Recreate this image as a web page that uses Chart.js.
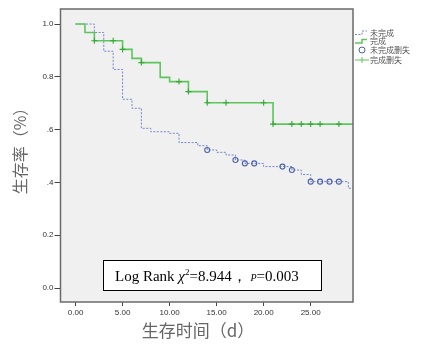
<!DOCTYPE html>
<html><head><meta charset="utf-8">
<script src="https://cdn.jsdelivr.net/npm/chart.js@4.4.0/dist/chart.umd.min.js"></script>
<style>html,body{margin:0;padding:0;background:#fff;}#wrap{width:421px;height:350px;position:relative;}</style>
</head><body><div id="wrap"><canvas id="c" width="421" height="350"></canvas></div>
<script>
// ---- data ----
const xTicks = [0, 5, 10, 15, 20, 25];
const yTicks = [0, 0.2, 0.4, 0.6, 0.8, 1.0];
const yTickLabels = ['0.0', '0.2', '.4', '.6', '0.8', '1.0'];
const seriesNames = ['未完成', '完成', '未完成删失', '完成删失'];
const xTitle = '生存时间（d）';
const yTitle = '生存率（%）';

// 未完成 (not completed) KM curve: event times and survival after each step
const notDoneTimes = [0, 2, 3, 4, 5, 6, 7, 8, 10, 11, 13, 14, 15, 16, 17, 18, 20, 23, 24, 25, 29, 29.5];
const notDoneSurv  = [1.0, 0.968, 0.897, 0.828, 0.715, 0.681, 0.605, 0.592, 0.586, 0.551, 0.539, 0.523, 0.514, 0.504, 0.485, 0.472, 0.460, 0.447, 0.430, 0.403, 0.378, 0.378];
const notDoneCensTimes = [14, 17, 18, 19, 22, 23, 25, 26, 27, 28];
const notDoneCensSurv  = [0.523, 0.485, 0.472, 0.472, 0.460, 0.447, 0.403, 0.403, 0.403, 0.403];

// 完成 (completed) KM curve
const doneTimes = [0, 1, 2, 5, 6, 7, 9, 10, 12, 14, 21, 29.5];
const doneSurv  = [1.0, 0.968, 0.937, 0.904, 0.870, 0.854, 0.798, 0.782, 0.744, 0.702, 0.621, 0.621];
const doneCensTimes = [2, 4, 5, 7, 11, 12, 14, 16, 20, 21, 23, 24, 25, 26, 28];
const doneCensSurv  = [0.937, 0.937, 0.904, 0.854, 0.782, 0.744, 0.702, 0.702, 0.702, 0.621, 0.621, 0.621, 0.621, 0.621, 0.621];

const statLabel = 'Log Rank';
const chiSquare = '8.944';
const pValue = '0.003';

// ---- styles ----
const BLUE_LINE = '#7486c6';
const BLUE_MARK = '#4a60ae';
const GREEN = '#5cc65c';
const GREEN_MARK = '#34a834';

const pts = (xs, ys) => xs.map((x, i) => ({x: x, y: ys[i]}));

const decor = {
  id: 'decor',
  beforeDatasetsDraw(chart) {
    const {ctx, chartArea: a} = chart;
    ctx.save();
    ctx.fillStyle = '#f0f0f0';
    ctx.fillRect(a.left, a.top, a.right - a.left, a.bottom - a.top);
    ctx.restore();
  },
  afterDraw(chart) {
    const {ctx, chartArea: a} = chart;
    ctx.save();
    // frame
    ctx.strokeStyle = '#6a6a6a';
    ctx.lineWidth = 1.5;
    ctx.strokeRect(a.left, a.top, a.right - a.left, a.bottom - a.top);

    // legend
    ctx.font = '8px "Noto Sans CJK SC"';
    ctx.fillStyle = '#555';
    ctx.textBaseline = 'middle';
    ctx.textAlign = 'left';
    const rows = [32.5, 41, 50, 60];
    const tx = 370;
    ctx.strokeStyle = BLUE_LINE; ctx.lineWidth = 1; ctx.setLineDash([2, 1.5]);
    ctx.beginPath(); ctx.moveTo(355, rows[0] + 2); ctx.lineTo(362, rows[0] + 2); ctx.lineTo(362, rows[0] - 1.5); ctx.lineTo(367, rows[0] - 1.5); ctx.stroke();
    ctx.setLineDash([]);
    ctx.strokeStyle = GREEN; ctx.lineWidth = 1.5;
    ctx.beginPath(); ctx.moveTo(355, rows[1] + 2); ctx.lineTo(362, rows[1] + 2); ctx.lineTo(362, rows[1] - 1.5); ctx.lineTo(367, rows[1] - 1.5); ctx.stroke();
    ctx.strokeStyle = BLUE_MARK; ctx.lineWidth = 1;
    ctx.beginPath(); ctx.arc(362, rows[2], 3, 0, Math.PI * 2); ctx.stroke();
    ctx.strokeStyle = GREEN; ctx.lineWidth = 1;
    ctx.beginPath(); ctx.moveTo(355, rows[3]); ctx.lineTo(369, rows[3]); ctx.moveTo(362, rows[3] - 3); ctx.lineTo(362, rows[3] + 3); ctx.stroke();
    seriesNames.forEach((n, i) => ctx.fillText(n, tx, rows[i]));

    // axis titles
    ctx.fillStyle = '#666';
    ctx.font = '17px "Noto Sans CJK SC"';
    ctx.textAlign = 'center';
    ctx.textBaseline = 'middle';
    ctx.fillText(xTitle, 198, 331);
    ctx.save();
    ctx.translate(20, 147);
    ctx.rotate(-Math.PI / 2);
    ctx.font = '16px "Noto Sans CJK SC"';
    ctx.fillText(yTitle, 0, 0);
    ctx.restore();

    // statistic box
    const bx = 103.5, by = 260.5, bw = 218, bh = 30;
    ctx.fillStyle = '#fff';
    ctx.fillRect(bx, by, bw, bh);
    ctx.strokeStyle = '#000'; ctx.lineWidth = 1;
    ctx.strokeRect(bx, by, bw, bh);
    ctx.fillStyle = '#000';
    ctx.textAlign = 'left';
    ctx.textBaseline = 'alphabetic';
    let x = 115; const base = 281;
    const seg = (t, f, dy) => { ctx.font = f; ctx.fillText(t, x, base + (dy || 0)); x += ctx.measureText(t).width; };
    seg(statLabel + ' ', '15px "Liberation Serif"');
    seg('χ', 'italic 15px "Liberation Serif"');
    seg('2', '9px "Liberation Serif"', -6);
    seg('=' + chiSquare + '，', '15px "Liberation Serif"');
    seg(' ', '15px "Liberation Serif"');
    seg('P', 'italic 10px "Liberation Serif"');
    seg('=' + pValue, '15px "Liberation Serif"');
    ctx.restore();
  }
};

new Chart(document.getElementById('c'), {
  type: 'line',
  data: {
    datasets: [
      { label: seriesNames[0], data: pts(notDoneTimes, notDoneSurv), stepped: true, borderColor: BLUE_LINE, borderWidth: 1, borderDash: [2, 1.5], pointRadius: 0, fill: false, order: 2 },
      { label: seriesNames[1], data: pts(doneTimes, doneSurv), stepped: true, borderColor: GREEN, borderWidth: 1.6, pointRadius: 0, fill: false, order: 1 },
      { label: seriesNames[2], data: pts(notDoneCensTimes, notDoneCensSurv), showLine: false, pointStyle: 'circle', pointRadius: 2.5, pointBorderColor: BLUE_MARK, pointBackgroundColor: 'rgba(0,0,0,0)', pointBorderWidth: 1.1, order: 0 },
      { label: seriesNames[3], data: pts(doneCensTimes, doneCensSurv), showLine: false, pointStyle: 'cross', pointRadius: 3, pointBorderColor: GREEN_MARK, pointBorderWidth: 1.1, order: 0 }
    ]
  },
  options: {
    responsive: false,
    animation: false,
    devicePixelRatio: 1,
    layout: { padding: { left: 0, top: 9, right: 68, bottom: 0 } },
    plugins: { legend: { display: false }, tooltip: { enabled: false } },
    scales: {
      x: {
        type: 'linear', min: -1.6, max: 29.5,
        afterBuildTicks: s => { s.ticks = xTicks.map(v => ({value: v})); },
        afterFit: s => { s.height = 48; },
        ticks: { callback: v => Number(v).toFixed(2), font: { size: 8, family: 'Liberation Sans' }, color: '#333', padding: 2, maxRotation: 0, autoSkip: false },
        grid: { drawOnChartArea: false, drawTicks: true, tickLength: 4, color: '#444' },
        border: { display: false }
      },
      y: {
        type: 'linear', min: -0.053, max: 1.057,
        afterBuildTicks: s => { s.ticks = yTicks.map(v => ({value: v})); },
        afterFit: s => { s.width = 60.5; },
        ticks: { callback: (v) => { const i = yTicks.findIndex(t => Math.abs(t - v) < 1e-6); return i >= 0 ? yTickLabels[i] : ''; }, font: { size: 8, family: 'Liberation Sans' }, color: '#333', padding: 1, autoSkip: false },
        grid: { drawOnChartArea: false, drawTicks: true, tickLength: 6, color: '#444' },
        border: { display: false }
      }
    }
  },
  plugins: [decor]
});
</script></body></html>
